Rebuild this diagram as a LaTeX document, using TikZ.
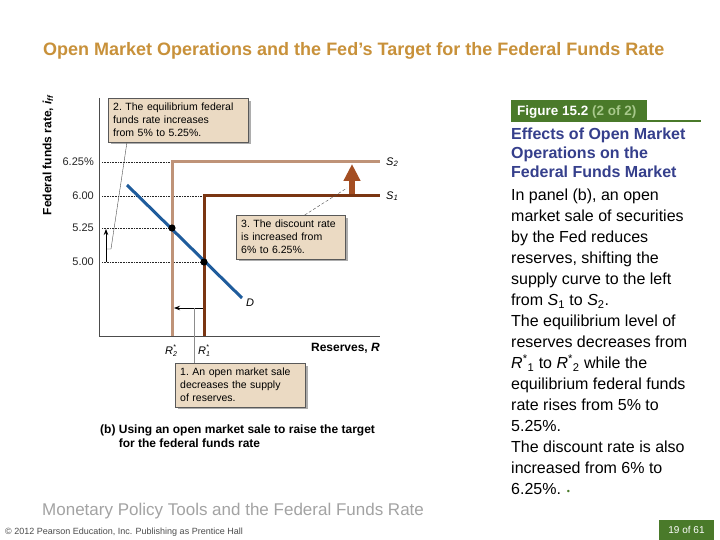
\documentclass[tikz,border=0pt]{standalone}
\usepackage{fontspec}
\setmainfont{Liberation Sans}
\usetikzlibrary{positioning,arrows.meta,shadows}

\definecolor{titlegold}{HTML}{C8913A}
\definecolor{supplylight}{HTML}{BF9378}
\definecolor{supplydark}{HTML}{7A3512}
\definecolor{shiftbrown}{HTML}{A44E22}
\definecolor{demandblue}{HTML}{1F5C9C}
\definecolor{notetan}{HTML}{EBDAC3}
\definecolor{figgreen}{HTML}{4A7A2A}
\definecolor{figlight}{HTML}{A8C98C}
\definecolor{headblue}{HTML}{353F8C}
\definecolor{footgray}{HTML}{A3A3A3}

\newcommand{\starsub}[1]{\raisebox{-0.45ex}{\fontsize{7}{6.5}\selectfont\shortstack[l]{*\\#1}}}

\tikzset{
  note/.style={draw=black!65, fill=notetan, align=left, inner xsep=5pt, inner ysep=5pt,
    font=\fontsize{10.5}{13}\selectfont\frenchspacing,
    drop shadow={shadow xshift=2.5pt, shadow yshift=-2.5pt, fill=black!40, opacity=0.8}},
  guide/.style={densely dotted, black!85, line width=0.6pt},
  leader/.style={black!70, line width=0.4pt},
  tick/.style={anchor=east, inner sep=0pt, text=black!85, font=\fontsize{11}{13}\selectfont},
  supply/.style={line width=3pt},
  curvelbl/.style={inner sep=1pt, font=\fontsize{11}{13}\selectfont\itshape},
  movearrow/.style={line width=0.8pt, -{Stealth[length=6pt,width=4.5pt]}},
}

\begin{document}
\begin{tikzpicture}[x=1pt,y=-1pt]
\useasboundingbox[fill=white] (0,0) rectangle (720,540);

\node[anchor=base west, inner sep=0pt, text=titlegold, font=\fontsize{18}{20}\selectfont\bfseries] (title) at (43,56)
  {Open Market Operations and the Fed’s Target for the Federal Funds Rate};

\coordinate (ytop) at (99,98);
\coordinate (o) at (99,336);
\coordinate (xend) at (380,336);
\coordinate (s2a) at (172,336);
\coordinate (s2b) at (172,162);
\coordinate (s2c) at (380,162);
\coordinate (s1a) at (204,336);
\coordinate (s1b) at (204,196);
\coordinate (s1c) at (380,196);
\coordinate (e2) at (172,228);
\coordinate (e1) at (204,262);
\coordinate (da) at (127,185);
\coordinate (db) at (242,298);

\node[tick] (t625) at (94,162) {6.25\%};
\node[tick] (t600) at (94,196) {6.00};
\node[tick] (t525) at (94,228) {5.25};
\node[tick] (t500) at (94,262) {5.00};
\node[rotate=90, font=\fontsize{12}{14}\selectfont\bfseries] (ylbl) at (48,155)
  {Federal funds rate, \textit{i}\textsubscript{\textit{ff}}};

\draw[guide] (ytop |- s2b) ++(3,0) -- (s2b);
\draw[guide] (ytop |- s1b) ++(3,0) -- (s1b);
\draw[guide] (ytop |- e2) ++(3,0) -- (e2);
\draw[guide] (ytop |- e1) ++(3,0) -- (e1);

\draw[black!70, line width=0.7pt] (ytop) -- (o) -- (xend);
\draw[supply, supplylight] (s2a) -- (s2b) -- (s2c);
\draw[supply, supplydark] (s1a) -- (s1b) -- (s1c);
\draw[line width=3pt, demandblue] (da) -- (db);
\fill (e2) circle (3.6pt);
\fill (e1) circle (3.6pt);

\node[curvelbl, right=5pt of s2c] (s2lbl) {S\textsubscript{2}};
\node[curvelbl, right=5pt of s1c] (s1lbl) {S\textsubscript{1}};
\node[curvelbl, below right=0pt and 3pt of db] (dlbl) {D};
\node[curvelbl, below=7pt of s2a, xshift=-1pt] (r2) {R\starsub{2}};
\node[curvelbl, below=7pt of s1a] (r1) {R\starsub{1}};
\node[anchor=base east, inner sep=0pt, font=\fontsize{12}{14}\selectfont\bfseries] (xlbl) at (380,351) {Reserves, \textit{R}};

\coordinate (fa) at (352,194);
\coordinate (fb) at (352,164);
\draw[line width=6pt, shiftbrown, -{Triangle[length=17pt,width=16pt]}] (fa) -- (fb);

\coordinate (ua) at (106,262);
\coordinate (ub) at (106,229);
\draw[movearrow] (ua) -- (ub);
\coordinate (la) at (203,308);
\coordinate (lb) at (174,308);
\draw[movearrow] (la) -- (lb);

\node[note, anchor=north west, text width=130pt] (n2) at (108,98)
  {2. The equilibrium federal\\funds rate increases\\from 5\% to 5.25\%.};
\node[note, anchor=north west, text width=99pt] (n3) at (236,215)
  {3. The discount rate\\is increased from\\6\% to 6.25\%.};
\node[note, anchor=north west, text width=120pt] (n1) at (175,363)
  {1. An open market sale\\decreases the supply\\of reserves.};

\coordinate (l2a) at (111,249);
\coordinate (l2b) at (107,249);
\draw[leader] (n2.south west) ++(19,0) -- (l2a) -- (l2b);
\coordinate (l3) at (347,188);
\draw[leader, densely dashed] (n3.north) ++(14,0) -- (l3);
\coordinate (l1) at (194,308);
\draw[leader, black!45] (n1.north west) ++(19,0) -- (l1);

\node[anchor=north west, align=left, inner sep=0pt, font=\fontsize{12}{14}\selectfont\bfseries] (cap) at (100,425)
  {(b) Using an open market sale to raise the target\\\hspace*{1.55em}for the federal funds rate};

\fill[figgreen] (511,100) rectangle (647,122);
\draw[figgreen, line width=2pt] (647,121) -- (701,121);
\node[anchor=base west, inner sep=0pt, text=white, font=\fontsize{13.5}{16}\selectfont\bfseries] (fig) at (517,116)
  {Figure 15.2 \textcolor{figlight}{(2 of 2)}};

\node[anchor=north west, align=left, inner sep=0pt, text=headblue, font=\fontsize{16}{19}\selectfont\bfseries] (head) at (511,128)
  {Effects of Open Market\\Operations on the\\Federal Funds Market};
\node[anchor=north west, align=left, inner sep=0pt, font=\fontsize{16}{21}\selectfont] (body) at (511,189)
  {In panel (b), an open\\market sale of securities\\by the Fed reduces\\reserves, shifting the\\supply curve to the left\\
   from \textit{S}\textsubscript{1} to \textit{S}\textsubscript{2}.\\The equilibrium level of\\reserves decreases from\\
   \textit{R}\textsuperscript{*}\textsubscript{1} to \textit{R}\textsuperscript{*}\textsubscript{2} while the\\equilibrium federal funds\\
   rate rises from 5\% to\\5.25\%.\\The discount rate is also\\increased from 6\% to\\6.25\%. {\color{figgreen}\fontsize{9}{9}\selectfont\textbullet}};

\node[anchor=base west, inner sep=0pt, text=footgray, font=\fontsize{17}{19}\selectfont] (foot) at (42,515)
  {Monetary Policy Tools and the Federal Funds Rate};
\node[anchor=base west, inner sep=0pt, text=black!70, font=\fontsize{9}{10}\selectfont] (copy) at (5,534)
  {© 2012 Pearson Education, Inc. Publishing as Prentice Hall};
\fill[figgreen] (659,520) rectangle (714,540);
\node[text=white, font=\fontsize{10}{12}\selectfont] (page) at (686.5,530) {19 of 61};
\end{tikzpicture}
\end{document}
